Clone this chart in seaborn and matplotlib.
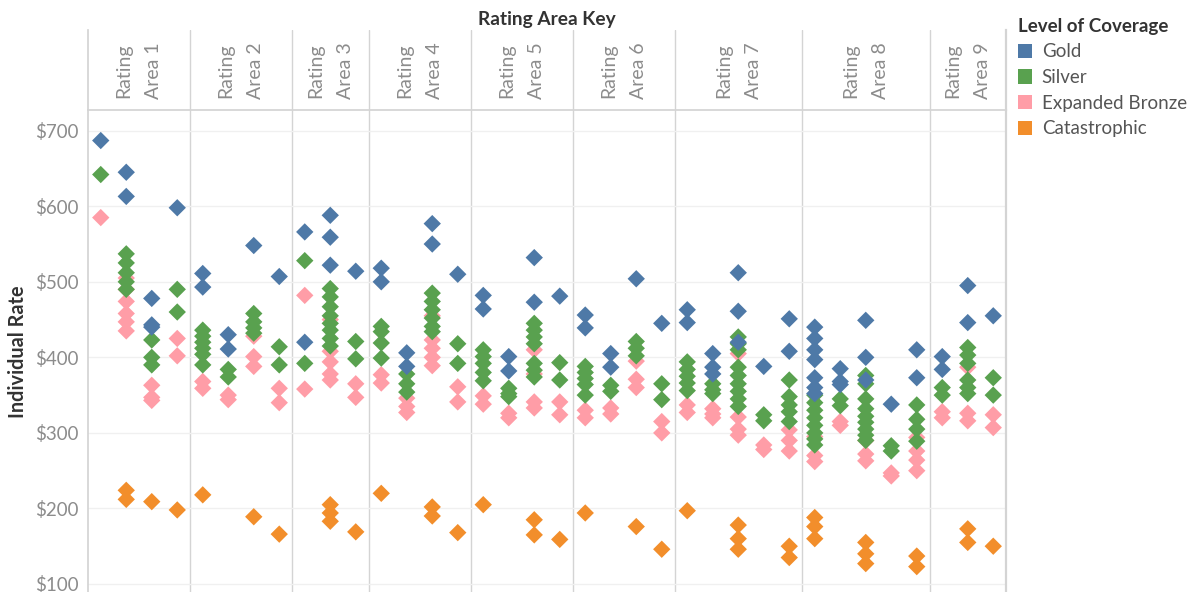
import numpy as np
import pandas as pd
import matplotlib
matplotlib.use('Agg')
import matplotlib.pyplot as plt
import seaborn as sns
from matplotlib.patches import Patch
from matplotlib.ticker import MultipleLocator, FuncFormatter

# ================================
# 1. DATA (one list per carrier column, 36 columns)
# ================================
areas = ['Rating\nArea %d' % i for i in range(1, 10)]
area_cols = [4, 4, 3, 4, 4, 4, 5, 5, 3]
levels = ['Gold', 'Silver', 'Expanded Bronze', 'Catastrophic']
colors = ['#4e79a7', '#59a14f', '#ff9da7', '#f28e2b']

gold = [[687], [645, 613], [478, 443, 440], [598],
        [511, 493], [430, 411], [548], [507],
        [566, 420], [588, 559, 522], [514],
        [518, 500], [406, 388], [577, 550], [510],
        [482, 464], [401, 382], [532, 473], [481],
        [456, 439], [405, 387], [504], [445],
        [463, 446], [405, 387, 378], [512, 461, 420], [388], [451, 408],
        [440, 425, 410, 397, 373, 360, 352], [385, 368, 364], [449, 400, 370], [338], [410, 373],
        [401, 384], [495, 446], [455]]

silver = [[642], [537, 525, 512, 500, 490], [423, 400, 390], [490, 460],
          [436, 428, 420, 412, 404, 390], [384, 374], [458, 447, 439, 432], [414, 390],
          [528, 392], [491, 480, 467, 455, 445, 436, 425, 415], [421, 398],
          [441, 434, 419, 399], [378, 365, 354], [485, 474, 463, 452, 441, 434], [418, 392],
          [410, 401, 392, 380, 369], [359, 352, 348], [445, 436, 427, 418, 392, 383, 374], [393, 370],
          [388, 380, 372, 364, 350], [363, 355], [421, 412, 402], [365, 344],
          [394, 384, 375, 366, 356], [365, 357, 352], [427, 418, 410, 387, 376, 365, 355, 345, 335],
          [324, 316], [370, 348, 337, 328, 315],
          [350, 340, 330, 320, 310, 300, 292, 284], [345, 336],
          [376, 365, 345, 332, 322, 314, 305, 297, 290], [283, 276], [337, 318, 305, 289],
          [360, 350], [413, 403, 392, 370, 360, 352], [373, 350]]

bronze = [[585], [505, 490, 474, 458, 447, 435], [363, 347, 343], [425, 402],
          [368, 359], [350, 344], [428, 401, 388], [359, 340],
          [482, 358], [450, 408, 394, 378, 370], [365, 347],
          [377, 366], [346, 335, 327], [455, 423, 412, 400, 389], [361, 341],
          [349, 338], [326, 320], [410, 378, 341, 333], [341, 324],
          [330, 320], [333, 325], [395, 371, 360], [315, 300],
          [337, 327], [332, 325, 320], [405, 321, 305, 297], [284, 278], [304, 290, 276],
          [295, 270, 262], [315, 310], [290, 272, 263], [247, 243], [294, 276, 264, 250],
          [328, 320], [387, 326, 316], [324, 307]]

catastrophic = [[], [224, 212], [209], [198],
                [218], [], [189], [166],
                [], [205, 194, 183], [169],
                [220], [], [202, 190], [168],
                [205], [], [185, 165], [159],
                [194], [], [176], [146],
                [197], [], [178, 160, 146], [], [150, 135],
                [188, 176, 160], [], [155, 140, 127], [], [137, 123],
                [], [173, 155], [150]]

# ================================
# 2. LONG TABLE (gold drawn last, on top)
# ================================
rows = []
for lvl, series in [('Catastrophic', catastrophic), ('Expanded Bronze', bronze),
                    ('Silver', silver), ('Gold', gold)]:
    for col, vals in enumerate(series):
        for v in vals:
            rows.append({'Column': col, 'Rate': v, 'Level': lvl})
df = pd.DataFrame(rows)

# ================================
# 3. FIGURE
# ================================
sns.set_theme(style='white')
plt.rcParams['font.family'] = ['Lato', 'DejaVu Sans']

W, H = 1200, 592
fig = plt.figure(figsize=(W / 100, H / 100), dpi=100)
ax = fig.add_axes([88 / W, 0, 918 / W, 482 / H])
axh = fig.add_axes([88 / W, 482 / H, 918 / W, 80 / H])

sns.scatterplot(data=df, x='Column', y='Rate', hue='Level', hue_order=levels,
                palette=colors, marker='D', s=78, linewidth=0, legend=False, ax=ax)

ncol = sum(area_cols)
ax.set_xlim(-0.5, ncol - 0.5)
ax.set_ylim(89.4, 727.4)
ax.set_xticks([])
ax.set_xlabel('')
ax.set_ylabel('')
ax.yaxis.set_major_locator(MultipleLocator(100))
ax.yaxis.set_minor_locator(MultipleLocator(50))
ax.yaxis.set_major_formatter(FuncFormatter(lambda v, p: '$%d' % v))
ax.tick_params(axis='y', which='major', length=4, width=0.8, color='#e0e0e0', pad=3,
               labelsize=13.5, labelcolor='#8c8c8c')
ax.tick_params(axis='y', which='minor', length=3, width=0.8, color='#e6e6e6')
ax.grid(axis='y', which='major', color='#f0f0f0', lw=1)
ax.set_axisbelow(True)

line_c = '#d4d4d4'
for s in ['top', 'bottom']:
    ax.spines[s].set_visible(False)
ax.spines['left'].set_color(line_c)
ax.spines['right'].set_color(line_c)
ax.spines['right'].set_linewidth(1.6)

# facet separators + header labels
bounds = np.cumsum([0] + area_cols)
for b in bounds[1:-1]:
    ax.axvline(b - 0.5, color=line_c, lw=1, zorder=0)
    axh.axvline(b - 0.5, color=line_c, lw=1)

axh.set_xlim(-0.5, ncol - 0.5)
axh.set_ylim(0, 1)
axh.set_xticks([])
axh.set_yticks([])
axh.spines['top'].set_visible(False)
for s in ['left', 'right', 'bottom']:
    axh.spines[s].set_color(line_c)
axh.spines['right'].set_linewidth(1.6)
for name, a, b in zip(areas, bounds[:-1], bounds[1:]):
    axh.text((a + b - 1) / 2, 0.85, name, rotation=90, ha='center', va='top',
             fontsize=14, color='#8c8c8c', linespacing=1.9)

fig.text(547 / W, 1 - 20 / H, 'Rating Area Key', ha='center', va='center',
         fontsize=13.8, fontweight='bold', color='#333333')
fig.text(18 / W, 1 - 352 / H, 'Individual Rate', ha='center', va='center', rotation=90,
         fontsize=14.3, fontweight='bold', color='#333333')

handles = [Patch(facecolor=c, edgecolor='none', label=l) for l, c in zip(levels, colors)]
leg = fig.legend(handles=handles, loc='upper left', bbox_to_anchor=(1014 / W, 1 - 14 / H),
                 frameon=False, title='Level of Coverage', fontsize=13.5, title_fontsize=13.5,
                 handlelength=0.78, handleheight=0.78, handletextpad=0.5,
                 labelspacing=0.46, alignment='left', borderaxespad=0, borderpad=0.2)
leg.get_title().set_fontweight('bold')
leg.get_title().set_color('#333333')
for t in leg.get_texts():
    t.set_color('#555555')

plt.savefig('out.png', dpi=100)
